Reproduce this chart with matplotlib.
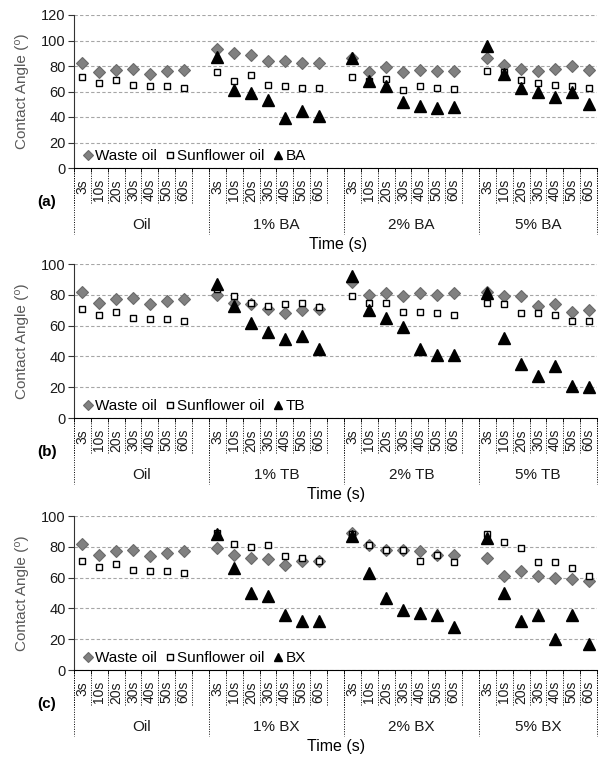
import matplotlib.pyplot as plt

plt.rcParams['font.family'] = ['Liberation Sans', 'DejaVu Sans']

times = ['3s', '10s', '20s', '30s', '40s', '50s', '60s']

# oil reference values (same in every panel)
oil_waste = [82, 75, 77, 78, 74, 76, 77]
oil_sunflower = [71, 67, 69, 65, 64, 64, 63]

# (a) BA
ba_groups = ['Oil', '1% BA', '2% BA', '5% BA']
ba_waste = oil_waste + [93, 90, 89, 84, 84, 82, 82] + [86, 75, 79, 75, 77, 76, 76] + [86, 81, 78, 76, 78, 80, 77]
ba_sunflower = oil_sunflower + [75, 68, 73, 65, 64, 63, 63] + [71, 68, 70, 61, 64, 63, 62] + [76, 75, 69, 67, 65, 64, 63]
ba_additive = [None] * 7 + [87, 61, 59, 53, 39, 45, 41] + [86, 68, 64, 52, 49, 47, 48] + [96, 74, 63, 60, 56, 60, 50]

# (b) TB
tb_groups = ['Oil', '1% TB', '2% TB', '5% TB']
tb_waste = oil_waste + [80, 75, 74, 71, 68, 70, 71] + [88, 80, 81, 79, 81, 80, 81] + [82, 79, 79, 73, 74, 69, 70]
tb_sunflower = oil_sunflower + [84, 79, 75, 73, 74, 75, 72] + [79, 75, 75, 69, 69, 68, 67] + [75, 74, 68, 68, 67, 63, 63]
tb_additive = [None] * 7 + [87, 73, 62, 56, 51, 53, 45] + [92, 70, 65, 59, 45, 41, 41] + [81, 52, 35, 27, 34, 21, 20]

# (c) BX
bx_groups = ['Oil', '1% BX', '2% BX', '5% BX']
bx_waste = oil_waste + [79, 75, 73, 72, 68, 71, 71] + [89, 81, 78, 78, 77, 75, 75] + [73, 61, 64, 61, 60, 59, 58]
bx_sunflower = oil_sunflower + [89, 82, 80, 81, 74, 73, 71] + [88, 81, 78, 78, 71, 75, 70] + [88, 83, 79, 70, 70, 66, 61]
bx_additive = [None] * 7 + [88, 66, 50, 48, 36, 32, 32] + [87, 63, 47, 39, 37, 36, 28] + [86, 50, 32, 36, 20, 36, 17]

panels = [
    ('(a)', 'BA', ba_groups, ba_waste, ba_sunflower, ba_additive, 120, [74, 168, 153], 338),
    ('(b)', 'TB', tb_groups, tb_waste, tb_sunflower, tb_additive, 100, [74, 418, 154], 336),
    ('(c)', 'BX', bx_groups, bx_waste, bx_sunflower, bx_additive, 100, [74, 670, 154], 336),
]

W, H = 602, 758
fig = plt.figure(figsize=(W / 100, H / 100), dpi=100)

for tag, name, groups, waste, sunflower, additive, ymax, (left, bottom, height), tx in panels:
    ax = fig.add_axes([left / W, 1 - bottom / H, 523 / W, height / H])
    # one blank slot after each group, like the excel chart
    xs = [g * 8 + t for g in range(len(groups)) for t in range(len(times))]

    ax.plot(xs, waste, 'D', ms=6, mfc='#808080', mec='#6a6a6a', mew=0.8, ls='none', label='Waste oil')
    ax.plot(xs, sunflower, 's', ms=5, mfc='white', mec='black', mew=1.0, ls='none', label='Sunflower oil')
    ax.plot([x for x, v in zip(xs, additive) if v is not None],
            [v for v in additive if v is not None],
            '^', ms=8, mfc='black', mec='black', ls='none', label=name)

    ax.set_xlim(-0.5, len(groups) * 8 - 1.5)
    ax.set_ylim(0, ymax)
    ax.set_yticks(range(0, ymax + 1, 20))
    ax.yaxis.grid(True, color='#a6a6a6', ls=(0, (3, 2)), lw=0.8)
    ax.set_axisbelow(True)
    for s in ['top', 'right']:
        ax.spines[s].set_visible(False)
    ax.spines['left'].set_color('#333333')
    ax.spines['bottom'].set_color('black')
    ax.tick_params(axis='y', length=4, color='#333333', labelsize=10.5, pad=2, labelcolor='#1a1a1a')

    ax.set_xticks(xs)
    ax.set_xticklabels(times * len(groups), rotation=90, fontsize=10, color='#1a1a1a')
    ax.tick_params(axis='x', which='major', length=0, pad=8)
    bounds = [g * 8 + k - 0.5 for g in range(len(groups)) for k in range(8)]
    ax.set_xticks(bounds, minor=True)
    ax.tick_params(axis='x', which='minor', length=3, color='black')

    ax.set_ylabel('Contact Angle (⁰)', fontsize=11, color='#595959')
    ax.yaxis.set_label_coords(-0.086, 0.5)

    # category boxes below the axis
    hpx = ax.bbox.height
    trans = ax.get_xaxis_transform()
    for b in bounds:
        ax.plot([b, b], [0, -36 / hpx], transform=trans, clip_on=False,
                color='black', lw=0.7, ls=(0, (1, 1.5)))
    full = [g * 8 - 0.5 for g in range(len(groups))] + [len(groups) * 8 - 1.5]
    for b in full:
        ax.plot([b, b], [0, -66 / hpx], transform=trans, clip_on=False,
                color='black', lw=0.7, ls=(0, (1, 1.5)))
    for g, lab in enumerate(groups):
        ax.text(g * 8 + 3.5 if g < len(groups) - 1 else g * 8 + 3, -57 / hpx, lab,
                transform=trans, ha='center', va='center', fontsize=11, color='#1a1a1a')

    ax.legend(loc='center left', bbox_to_anchor=(0.018, 12 / hpx), ncol=3, frameon=False,
              fontsize=11, handlelength=0.6, handletextpad=0.15, columnspacing=0.6,
              borderpad=0, borderaxespad=0, markerscale=0.8)

    fig.text(47 / W, 1 - (bottom + 34) / H, tag, fontsize=11, fontweight='bold',
             ha='center', va='center')
    fig.text(tx / W, 1 - (bottom + 76) / H, 'Time (s)', fontsize=11.5,
             ha='center', va='center')

fig.savefig('out.png', dpi=100)
